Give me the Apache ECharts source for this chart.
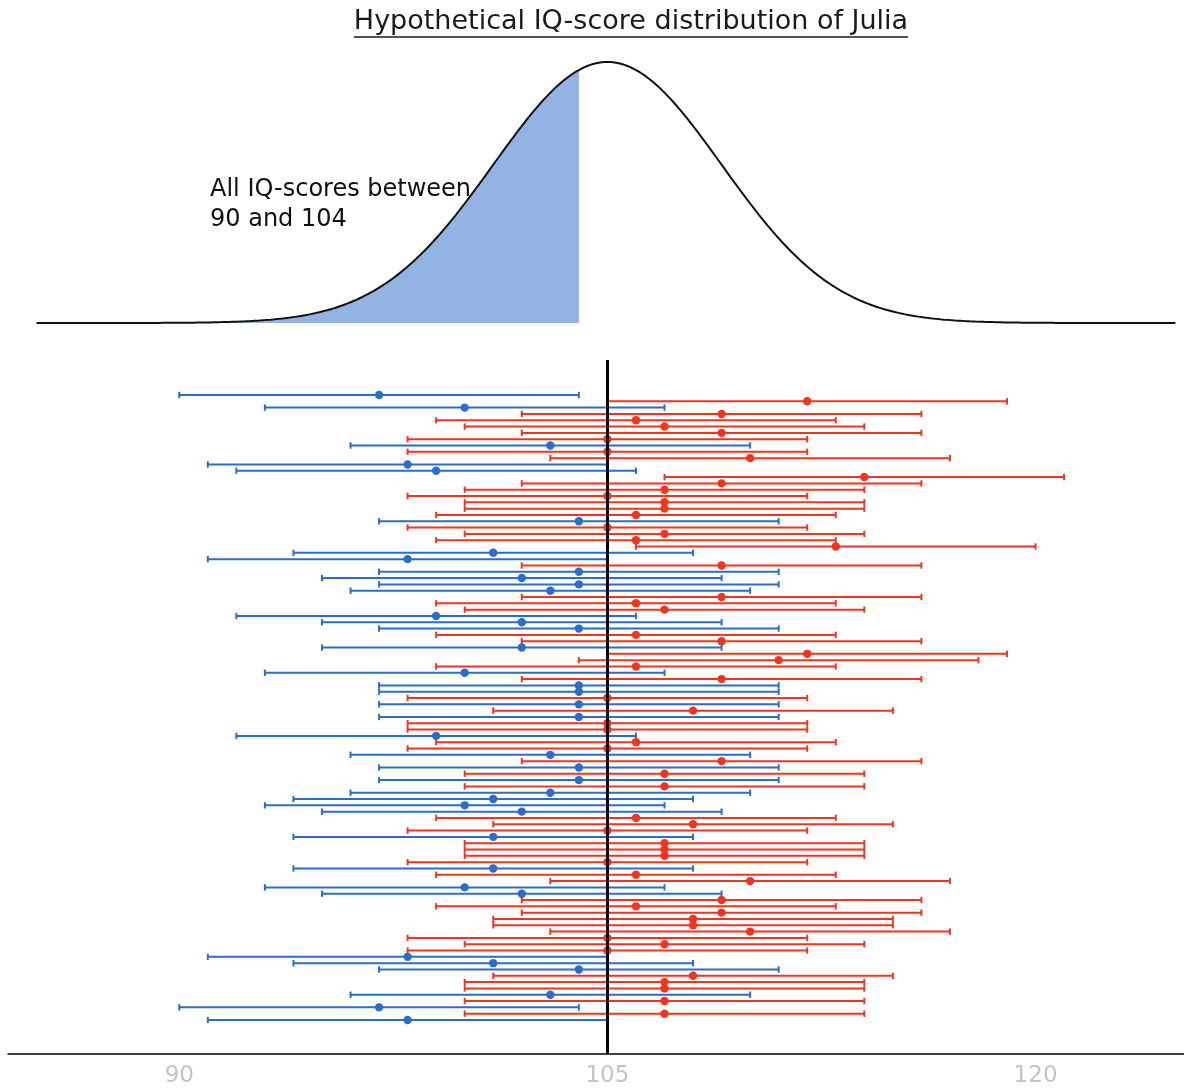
<!DOCTYPE html>
<html><head><meta charset="utf-8">
<script src="https://cdn.jsdelivr.net/npm/echarts@6/dist/echarts.min.js"></script>
<style>html,body{margin:0;padding:0;background:#fff}#c{width:1184px;height:1090px}</style>
</head><body><div id="c"></div>
<script>
// ---- data ----
const titleText = 'Hypothetical IQ-score distribution of Julia';
const noteLines = ['All IQ-scores between', '90 and 104'];
const TRUE_IQ = 105;          // Julia's true IQ (centre of the distribution)
const DIST_SD = 4;            // spread of the hypothetical score distribution
const HALF_WIDTH = 7;         // half-width of each interval
const shadeRange = [90, 104];
const curveRange = [85, 124.9];
const xTicks = [90, 105, 120];
// measured IQ score for each of 100 repeated measurements, top to bottom
const measuredIQ = [
  97,112,100,109,106,107,109,105,103,105,
  110,98,99,114,109,107,105,107,107,106,
  104,105,107,106,113,101,98,109,104,102,
  104,103,109,106,107,99,102,104,106,109,
  102,112,111,106,100,109,104,104,105,104,
  108,104,105,105,99,106,105,103,109,104,
  107,104,107,103,101,100,102,106,108,105,
  101,107,107,107,105,101,106,110,100,102,
  109,106,109,108,108,110,105,107,105,98,
  101,104,108,107,107,103,107,97,107,98
];

const BLUE = '#2b6dca', RED = '#f0351f', SHADE = '#93b3e4';
const FONT = 'DejaVu Sans';

function pdf(x){ return Math.exp(-0.5*Math.pow((x-TRUE_IQ)/DIST_SD,2))/(DIST_SD*Math.sqrt(2*Math.PI)); }
const curve = [], shade = [];
for (let x = curveRange[0]; x <= curveRange[1] + 1e-9; x += 0.05) {
  const xv = +x.toFixed(2);
  curve.push([xv, pdf(xv)]);
  if (xv >= shadeRange[0] && xv <= shadeRange[1] + 1e-9) shade.push([xv, pdf(xv)]);
}
const intervals = measuredIQ.map((m, i) => [i + 1, m - HALF_WIDTH, m, m + HALF_WIDTH]);

// measure title width for underline
const TITLE_FS = 27;
const cv = document.createElement('canvas').getContext('2d');
cv.font = TITLE_FS + 'px "' + FONT + '"';
const tW = cv.measureText(titleText).width;
const tX = 631;

const chart = echarts.init(document.getElementById('c'), null, {renderer: 'canvas'});
chart.setOption({
  animation: false,
  backgroundColor: '#fff',
  textStyle: {fontFamily: FONT},
  grid: [
    {left: 8, right: 0, top: 62, height: 261},
    {left: 8, right: 0, top: 360, height: 694}
  ],
  xAxis: [
    {gridIndex: 0, type: 'value', min: 84, max: 125.2, show: false},
    {gridIndex: 1, type: 'value', min: 84, max: 125.2,
     axisLine: {show: true, onZero: false, lineStyle: {color: '#000', width: 1.5}},
     axisTick: {show: false}, splitLine: {show: false},
     axisLabel: {customValues: xTicks, color: '#c4c4c4', fontSize: 23, fontFamily: FONT, margin: 11}}
  ],
  yAxis: [
    {gridIndex: 0, type: 'value', min: 0, max: pdf(TRUE_IQ), show: false},
    {gridIndex: 1, type: 'value', min: -4.544, max: 105.39, inverse: true, show: false}
  ],
  graphic: [
    {type: 'text', left: tX - tW/2, top: 8, style: {text: titleText, font: TITLE_FS + 'px "' + FONT + '"', fill: '#1a1a1a'}},
    {type: 'line', shape: {x1: tX - tW/2, y1: 37, x2: tX + tW/2, y2: 37}, style: {stroke: '#1a1a1a', lineWidth: 1.5}},
    {type: 'text', left: 210, top: 175, style: {text: noteLines.join('\n'), font: '24px "' + FONT + '"', lineHeight: 30, fill: '#111'}}
  ],
  series: [
    {type: 'line', xAxisIndex: 0, yAxisIndex: 0, data: shade, symbol: 'none', silent: true,
     lineStyle: {width: 0}, areaStyle: {color: SHADE, opacity: 1}, z: 1},
    {type: 'line', xAxisIndex: 0, yAxisIndex: 0, data: curve, symbol: 'none', silent: true,
     lineStyle: {color: '#111', width: 2}, z: 2},
    {type: 'custom', xAxisIndex: 1, yAxisIndex: 1, data: intervals, silent: true,
     encode: {x: [1, 2, 3], y: 0},
     renderItem: function (params, api) {
       const row = api.value(0), lo = api.value(1), m = api.value(2), hi = api.value(3);
       const a = api.coord([lo, row]), b = api.coord([hi, row]), c = api.coord([m, row]);
       const col = m < TRUE_IQ ? BLUE : RED;
       const cap = 3.2, lw = 2;
       return {type: 'group', children: [
         {type: 'line', shape: {x1: a[0], y1: a[1], x2: b[0], y2: b[1]}, style: {stroke: col, lineWidth: lw}},
         {type: 'line', shape: {x1: a[0], y1: a[1]-cap, x2: a[0], y2: a[1]+cap}, style: {stroke: col, lineWidth: lw}},
         {type: 'line', shape: {x1: b[0], y1: b[1]-cap, x2: b[0], y2: b[1]+cap}, style: {stroke: col, lineWidth: lw}},
         {type: 'circle', shape: {cx: c[0], cy: c[1], r: 4.2}, style: {fill: col}}
       ]};
     }, z: 3},
    {type: 'line', xAxisIndex: 1, yAxisIndex: 1, data: [], z: 5,
     markLine: {silent: true, symbol: 'none', label: {show: false},
       lineStyle: {color: '#000', width: 3, type: 'solid'}, data: [{xAxis: TRUE_IQ}]}}
  ]
});
</script>
</body></html>
